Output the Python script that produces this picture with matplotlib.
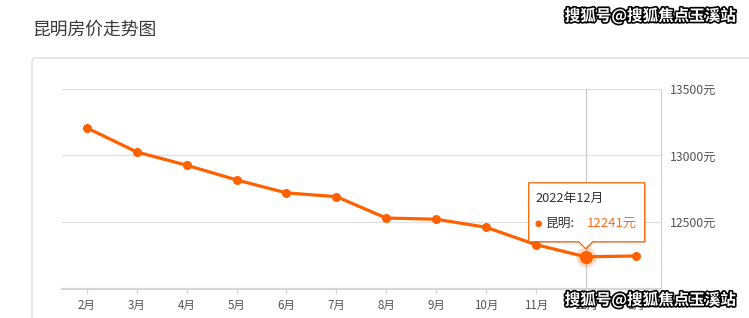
import matplotlib
matplotlib.use("Agg")
import matplotlib.pyplot as plt
import matplotlib.patheffects as pe
from matplotlib.patches import FancyBboxPatch, Polygon, Circle

plt.rcParams['font.family'] = ['Noto Sans CJK SC', 'DejaVu Sans']

months = ['2月', '3月', '4月', '5月', '6月', '7月', '8月', '9月', '10月', '11月', '12月', '1月']
prices = [13205, 13025, 12926, 12816, 12719, 12691, 12531, 12522, 12462, 12332, 12241, 12247]
y_ticks = [12500, 13000, 13500]
y_tick_labels = ['12500元', '13000元', '13500元']
title = '昆明房价走势图'
watermark = '搜狐号@搜狐焦点玉溪站'
hl_index = 10
hl_label = '2022年12月'
series_name = '昆明:'

W, H = 749, 318
ORANGE = '#ff6100'
fig = plt.figure(figsize=(W / 100, H / 100), dpi=100)
fig.patch.set_facecolor('white')

# overlay in pixel coords
ov = fig.add_axes([0, 0, 1, 1], zorder=0)
ov.set_xlim(0, W)
ov.set_ylim(H, 0)
ov.axis('off')

# container box
box = FancyBboxPatch((32, 58), 760, 300, boxstyle='round,pad=0,rounding_size=4',
                     facecolor='white', edgecolor='#dcdcdc', linewidth=1.0)
ov.add_patch(box)
ov.text(32, 30, title, fontsize=12.8, color='#3a3a3a', va='center', ha='left')

# main axes
L, R, T, B = 62, 660.5, 88.5, 289
ax = fig.add_axes([L / W, (H - B) / H, (R - L) / W, (B - T) / H], zorder=2)
ax.patch.set_alpha(0)
x = list(range(len(months)))
ax.set_xlim(-0.5, len(months) - 0.5)
ax.set_ylim(12000, 13500)
for s in ['top', 'left']:
    ax.spines[s].set_visible(False)
ax.spines['bottom'].set_color('#d6d6d6')
ax.spines['bottom'].set_linewidth(1.6)
ax.spines['right'].set_color('#d0d0d0')
ax.spines['right'].set_linewidth(0.8)
ax.set_xticks(x)
ax.set_xticklabels(months, fontsize=8.3, color='#555555')
ax.tick_params(axis='x', length=3.5, width=0.8, color='#d0d0d0', pad=4)
ax.yaxis.tick_right()
ax.set_yticks(y_ticks)
ax.set_yticklabels(y_tick_labels, fontsize=8.8, color='#555555')
ax.tick_params(axis='y', length=0, pad=7)
for yv in y_ticks:
    ax.axhline(yv, color='#e0e0e0', linewidth=0.9, zorder=1)

# crosshair
ax.axvline(hl_index, color='#cccccc', linewidth=0.9, zorder=1.5)

ax.plot(x, prices, color=ORANGE, linewidth=2.3, marker='o', markersize=6.5,
        markeredgewidth=0, zorder=3, clip_on=False)
ax.plot([hl_index], [prices[hl_index]], marker='o', markersize=14.5, color=ORANGE,
        alpha=0.22, markeredgewidth=0, zorder=3.5)
ax.plot([hl_index], [prices[hl_index]], marker='o', markersize=9.5, color=ORANGE,
        markeredgewidth=0, zorder=4)

# tooltip, positioned relative to highlighted point
fig.canvas.draw()
dx, dy = ax.transData.transform((hl_index, prices[hl_index]))
px, py = dx, H - dy
tip = fig.add_axes([0, 0, 1, 1], zorder=5)
tip.set_xlim(0, W)
tip.set_ylim(H, 0)
tip.axis('off')
bl, br, bt, bb = px - 57, px + 59, py - 74, py - 15
pts = [(bl, bt), (br, bt), (br, bb), (px + 7, bb), (px, bb + 7), (px - 7, bb), (bl, bb)]
shadow = Polygon([(a + 1.5, b + 1.5) for a, b in pts], closed=True,
                 facecolor='#000000', alpha=0.12, edgecolor='none')
tip.add_patch(shadow)
tip.add_patch(Polygon(pts, closed=True, facecolor='white', edgecolor=ORANGE, linewidth=0.9))
tip.text(bl + 7, py - 58, hl_label, fontsize=9.2, color='#333333', va='center', ha='left')
tip.add_patch(Circle((bl + 10, py - 33), 2.6, color=ORANGE))
tip.text(bl + 17, py - 33, series_name, fontsize=9.2, color='#333333', va='center', ha='left')
tip.text(bl + 58, py - 33, f'{prices[hl_index]}元', fontsize=9.5, color='#ff6a1a',
         va='center', ha='left')

# watermarks
wm = fig.add_axes([0, 0, 1, 1], zorder=10)
wm.set_xlim(0, W)
wm.set_ylim(H, 0)
wm.axis('off')
stroke = [pe.withStroke(linewidth=2.4, foreground='black')]
wm.text(650, 16, watermark, fontsize=11.2, fontweight='bold', color='white',
        ha='center', va='center', path_effects=stroke)
wm.text(650, 300, watermark, fontsize=11.2, fontweight='bold', color='white',
        ha='center', va='center', path_effects=stroke)

fig.savefig('out.png', dpi=100)
